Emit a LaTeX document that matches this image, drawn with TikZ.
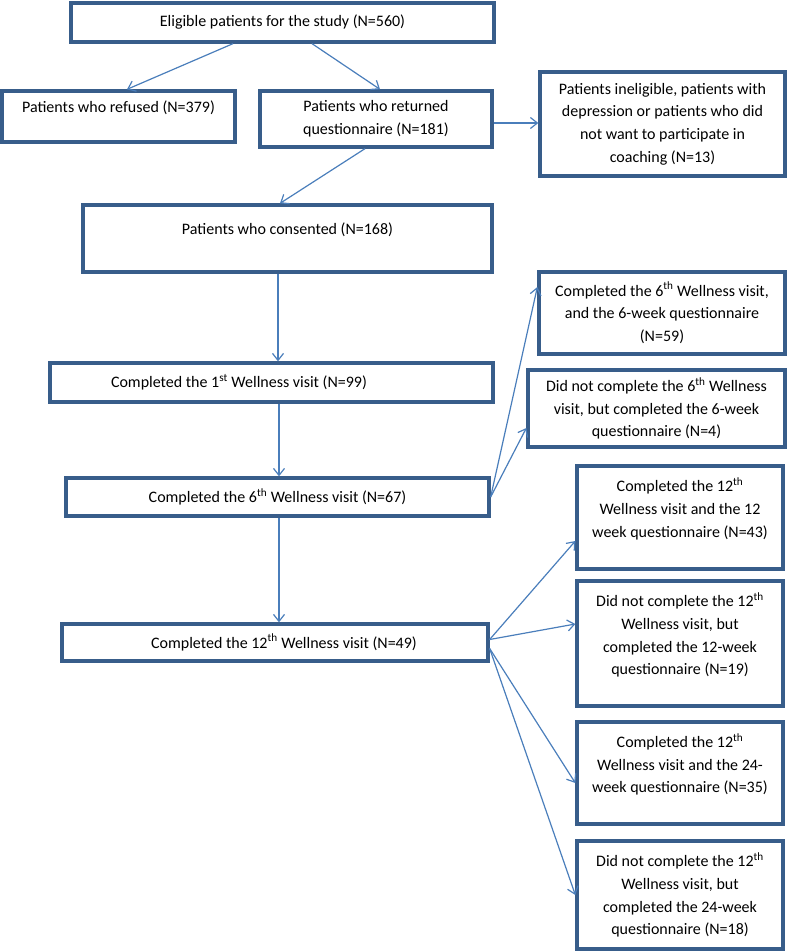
\documentclass[tikz,border=0pt]{standalone}
\usepackage{fontspec}
\setmainfont{Carlito}
\usetikzlibrary{arrows.meta}
\definecolor{boxline}{RGB}{56,93,138}
\definecolor{arrowline}{RGB}{74,126,187}
\newcommand{\boxtail}{\\[-3pt]\mbox{}}
\tikzset{
  flowbox/.style={draw=boxline, line width=3.3pt, fill=white, align=center, inner sep=0pt,
    font=\fontsize{16}{22.7}\selectfont},
  flowarrow/.style={draw=arrowline, line width=1.2pt, -{Straight Barb[length=7pt,width=11pt]}}
}

\begin{document}
\begin{tikzpicture}[x=1pt, y=-1pt]
			%%%%% START %%%%%
			\useasboundingbox (0,0) rectangle (787,952);
			
			\node[flowbox, minimum width=423pt, minimum height=39pt] (eligible) at (282.5,22.5) {Eligible patients for the study (N=560)};
			\node[flowbox, minimum width=233pt, minimum height=51pt] (refused) at (118.5,116.5) {Patients who refused (N=379)\boxtail};
			\node[flowbox, minimum width=232pt, minimum height=56pt] (returned) at (376,119) {Patients who returned\\questionnaire (N=181)};
			\node[flowbox, minimum width=245pt, minimum height=104pt] (ineligible) at (662.5,124) {Patients ineligible, patients with\\depression or patients who did\\not want to participate in\\coaching (N=13)};
			
			\node[flowbox, minimum width=409pt, minimum height=67pt] (consented) at (287.5,238.5) {Patients who consented (N=168)\boxtail};
			
			\node[flowbox, minimum width=443pt, minimum height=39pt] (visitone) at (271.5,382.5) {Completed the 1\textsuperscript{st} Wellness visit (N=99)\hspace{65pt}};
			\node[flowbox, minimum width=423pt, minimum height=38pt] (visitsix) at (277.5,497) {Completed the 6\textsuperscript{th} Wellness visit (N=67)};
			\node[flowbox, minimum width=426pt, minimum height=37pt] (visittwelve) at (275,642.5) {\hspace{18pt}Completed the 12\textsuperscript{th} Wellness visit (N=49)};
			
			\node[flowbox, minimum width=246pt, minimum height=82pt] (sixdone) at (662,313) {Completed the 6\textsuperscript{th} Wellness visit,\\and the 6-week questionnaire\\(N=59)};
			\node[flowbox, minimum width=257pt, minimum height=77pt] (sixmissed) at (656.5,408.5) {Did not complete the 6\textsuperscript{th} Wellness\\visit, but completed the 6-week\\questionnaire (N=4)};
			
			\node[flowbox, minimum width=206pt, minimum height=103pt] (twelvedone) at (680,517.5) {Completed the 12\textsuperscript{th}\\Wellness visit and the 12\\week questionnaire (N=43)\boxtail};
			\node[flowbox, minimum width=206pt, minimum height=125pt] (twelvemissed) at (680,643.5) {Did not complete the 12\textsuperscript{th}\\Wellness visit, but\\completed the 12-week\\questionnaire (N=19)\boxtail};
			\node[flowbox, minimum width=206pt, minimum height=102pt] (longdone) at (680,773) {Completed the 12\textsuperscript{th}\\Wellness visit and the 24-\\week questionnaire (N=35)\boxtail};
			\node[flowbox, minimum width=206pt, minimum height=108pt] (longmissed) at (680,895) {Did not complete the 12\textsuperscript{th}\\Wellness visit, but\\completed the 24-week\\questionnaire (N=18)};
			
			%%%%% ARROWS %%%%%
			\draw[flowarrow] ([xshift=-49.5pt]eligible.south) -- ([xshift=8.5pt]refused.north);
			\draw[flowarrow] ([xshift=29.5pt]eligible.south) -- ([xshift=4pt]returned.north);
			\draw[flowarrow] ([yshift=-4pt]returned.east) -- ([yshift=1pt]ineligible.west);
			\draw[flowarrow] ([xshift=-11pt]returned.south) -- ([xshift=-7.5pt]consented.north);
			
			\draw[flowarrow] ([xshift=-9.5pt]consented.south) -- ([xshift=6.5pt]visitone.north);
			\draw[flowarrow] ([xshift=7.5pt]visitone.south) -- ([xshift=1.5pt]visitsix.north);
			\draw[flowarrow] ([xshift=1.5pt]visitsix.south) -- ([xshift=4pt]visittwelve.north);
			
			\draw[flowarrow] (visitsix.east) -- ([yshift=26pt]sixdone.west);
			\draw[flowarrow] (visitsix.east) -- ([yshift=-19.5pt]sixmissed.west);
			
			\draw[flowarrow] ([yshift=3pt]visittwelve.east) -- ([yshift=-23.5pt]twelvedone.west);
			\draw[flowarrow] ([yshift=3pt]visittwelve.east) -- ([yshift=19.5pt]twelvemissed.west);
			\draw[flowarrow] ([yshift=-6pt]visittwelve.east) -- ([yshift=-10pt]longdone.west);
			\draw[flowarrow] ([yshift=-6pt]visittwelve.east) -- (longmissed.west);
			
			%%%%% END %%%%%
\end{tikzpicture}
\end{document}
